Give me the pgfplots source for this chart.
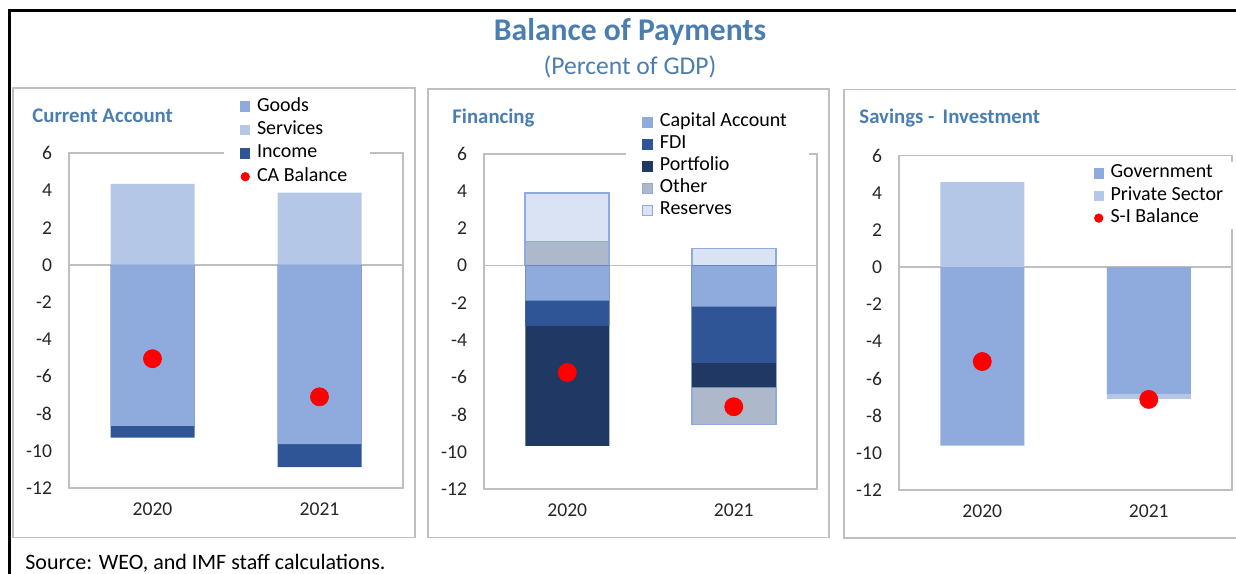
\documentclass[border=0pt]{standalone}
\usepackage{fontspec}
\setmainfont{Carlito}
\usepackage{pgfplots}
\pgfplotsset{compat=1.18}

\definecolor{goods}{HTML}{8FAADC}
\definecolor{services}{HTML}{B4C7E7}
\definecolor{income}{HTML}{2F5597}
\definecolor{portfolio}{HTML}{203864}
\definecolor{other}{HTML}{ADB9CA}
\definecolor{reserv}{HTML}{DAE3F3}
\definecolor{balred}{HTML}{FF0000}
\definecolor{bordgray}{HTML}{BFBFBF}
\definecolor{titleblue}{HTML}{4A7EB0}
\definecolor{ticktext}{HTML}{262626}

\pgfplotsset{
  bop/.style={
    scale only axis, width=167pt, height=167.3pt,
    xmin=-0.5, xmax=1.5, ymin=-12, ymax=6,
    xtick={0,1}, xticklabels={2020,2021},
    ytick={-12,-10,...,6},
    axis line style={draw=bordgray, line width=0.8pt},
    major tick length=0pt,
    tick label style={font=\fontsize{9.8}{11}\selectfont, text=ticktext},
    /pgf/number format/assume math mode=true,
    yticklabel style={xshift=-5pt},
    xticklabel style={yshift=-4pt},
    extra y ticks={0}, extra y tick labels={},
    extra y tick style={grid=major, major grid style={draw=bordgray, line width=0.8pt}},
    legend cell align=left,
    legend style={draw=none, fill=white, inner xsep=8pt, inner ysep=0pt,
      anchor=north west, font=\fontsize{10}{11}\selectfont,
      nodes={text height=6.8pt, text depth=2.2pt, inner ysep=1.35pt, inner xsep=3.3pt},
      /tikz/every even column/.append style={column sep=0pt}},
  },
  % bars are overlaid from 0 to the end of each segment (outer segments first)
  seg/.style={ybar, bar width=42pt, bar shift=0pt, draw=none, fill=#1},
  bal/.style={only marks, mark=*, mark size=4.5pt, color=balred,
    mark options={draw=none, fill=balred}},
  sqleg/.style={legend image code/.code={\path[##1] (0pt,-2.6pt) rectangle (5.2pt,2.6pt);}},
  dotleg/.style={legend image code/.code={\fill[balred] (2.6pt,0pt) circle (2.1pt);}},
}

\begin{document}
\begin{tikzpicture}
\path[use as bounding box] (0,0) rectangle (618pt,286.5pt);

% ---- Current Account
\begin{axis}[bop, at={(34.5pt,209.85pt)}, anchor=north west,
  legend style={at={(0.463,1.176)}}]
  \addlegendimage{sqleg, fill=goods, draw=none}
  \addlegendimage{sqleg, fill=services, draw=none}
  \addlegendimage{sqleg, fill=income, draw=none}
  \addlegendimage{dotleg}
  \legend{Goods, Services, Income, CA Balance}
  \addplot[seg=services] coordinates {(0,4.35) (1,3.89)};
  \addplot[seg=income] coordinates {(0,-9.29) (1,-10.88)};
  \addplot[seg=goods] coordinates {(0,-8.66) (1,-9.65)};
  \addplot[bal] coordinates {(0,-5.05) (1,-7.10)};
\end{axis}

% ---- Financing
\begin{axis}[bop, at={(242pt,209.5pt)}, anchor=north west, width=166.5pt, height=167.5pt,
  legend style={at={(0.424,1.128)}, nodes={text height=6.6pt, text depth=2.2pt, inner ysep=1.1pt}}]
  \addlegendimage{sqleg, fill=goods, draw=none}
  \addlegendimage{sqleg, fill=income, draw=none}
  \addlegendimage{sqleg, fill=portfolio, draw=none}
  \addlegendimage{sqleg, fill=other, draw=goods, line width=0.7pt}
  \addlegendimage{sqleg, fill=reserv, draw=goods, line width=0.7pt}
  \legend{Capital Account, FDI, Portfolio, Other, Reserves}
  \addplot[seg=reserv, draw=goods, line width=0.8pt] coordinates {(0,3.89) (1,0.93)};
  \addplot[seg=other, draw=goods, line width=0.8pt] coordinates {(0,1.30) (1,-8.53)};
  \addplot[seg=portfolio] coordinates {(0,-9.68) (1,-6.54)};
  \addplot[seg=income] coordinates {(0,-3.23) (1,-5.23)};
  \addplot[seg=goods] coordinates {(0,-1.88) (1,-2.20)};
  \addplot[bal] coordinates {(0,-5.74) (1,-7.58)};
\end{axis}

% ---- Savings - Investment
\begin{axis}[bop, at={(449.5pt,208.65pt)}, anchor=north west, width=166.5pt, height=167.2pt,
  legend style={at={(0.535,0.982)}, nodes={text height=6.7pt, text depth=2.2pt, inner ysep=1.15pt}}]
  \addlegendimage{sqleg, fill=goods, draw=none}
  \addlegendimage{sqleg, fill=services, draw=none}
  \addlegendimage{dotleg}
  \legend{Government, Private Sector, S-I Balance}
  \addplot[seg=services] coordinates {(0,4.58) (1,-7.09)};
  \addplot[seg=goods] coordinates {(0,-9.60) (1,-6.82)};
  \addplot[bal] coordinates {(0,-5.08) (1,-7.12)};
\end{axis}

% frames
\draw[bordgray, line width=0.9pt] (6.5pt,17.75pt) rectangle (207.5pt,242.5pt);
\draw[bordgray, line width=0.9pt] (214pt,17.75pt) rectangle (414.5pt,242pt);
\draw[bordgray, line width=0.9pt] (422pt,17.65pt) rectangle (625pt,241.75pt);
\draw[black, line width=1.5pt] (4.5pt,-2pt) -- (4.5pt,281.25pt) -- (625pt,281.25pt);

% titles
\node[font=\bfseries\fontsize{15.8}{17}\selectfont, text=titleblue] at (315pt,270.5pt) {Balance of Payments};
\node[font=\fontsize{12.8}{14}\selectfont, text=titleblue] at (315pt,253pt) {(Percent of GDP)};
\node[anchor=west, inner sep=0pt, font=\bfseries\fontsize{10.4}{12}\selectfont, text=titleblue] at (16pt,228.5pt) {Current Account};
\node[anchor=west, inner sep=0pt, font=\bfseries\fontsize{10.4}{12}\selectfont, text=titleblue] at (226pt,227.5pt) {Financing};
\node[anchor=west, inner sep=0pt, font=\bfseries\fontsize{10.4}{12}\selectfont, text=titleblue] at (429.5pt,227.5pt) {Savings -\, Investment};
\node[anchor=base west, inner sep=0pt, font=\fontsize{11}{12}\selectfont] at (12.5pt,2pt) {Source: WEO, and IMF staff calculations.};
\end{tikzpicture}
\end{document}
